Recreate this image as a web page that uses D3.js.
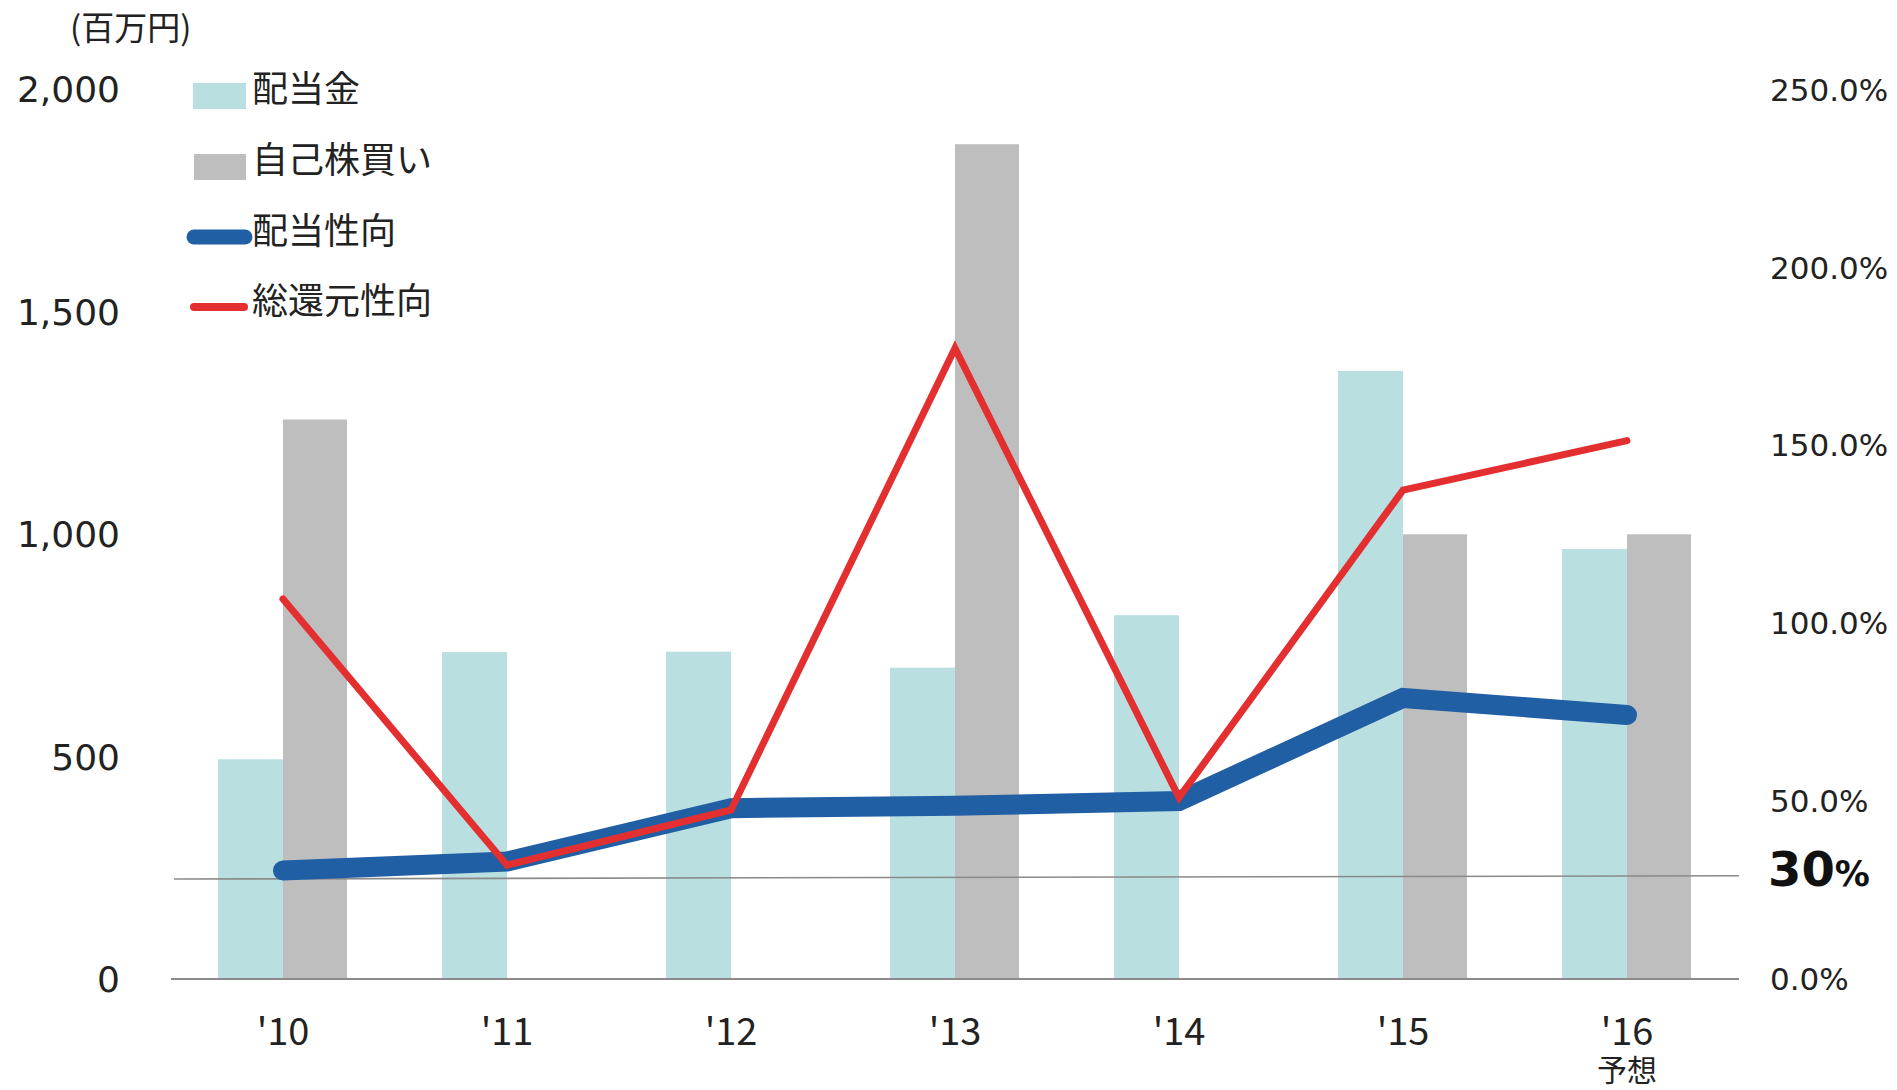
<!DOCTYPE html>
<html>
<head>
<meta charset="utf-8">
<script src="https://cdn.jsdelivr.net/npm/d3@7"></script>
<style>
html,body{margin:0;padding:0;background:#fff;}
svg{display:block;}
</style>
</head>
<body>
<svg id="chart" width="1897" height="1090"></svg>
<script>
const categories = ["'10", "'11", "'12", "'13", "'14", "'15", "'16"];
const subLabels = ["", "", "", "", "", "", "予想"];
const dividends = [494, 735, 736, 700, 818, 1367, 967];
const buybacks = [1258, 0, 0, 1877, 0, 1000, 1000];
const payoutRatio = [30.5, 33.0, 48.0, 48.7, 50.0, 79.0, 74.2];
const totalReturnRatio = [106.8, 32.0, 47.5, 177.3, 51.0, 137.4, 151.3];
const leftTicks = [0, 500, 1000, 1500, 2000];
const rightTicks = [0, 50, 100, 150, 200, 250];
const refLine = [28.1, 29.0];
const refLabel = ["30", "%"];
const unitLabel = "(百万円)";
const legendNames = ["配当金", "自己株買い", "配当性向", "総還元性向"];

const C = {teal: "#B9DFE0", gray: "#BEBEBE", blue: "#215FA5", red: "#E32F2F", text: "#222"};
const svg = d3.select("#chart");

const x = d3.scaleBand().domain(categories).range([171, 1739]).padding(0);
const yL = d3.scaleLinear().domain([0, 2000]).range([979, 89.5]);
const yR = d3.scaleLinear().domain([0, 250]).range([979, 89.5]);
const barW = 64;
const cx = c => x(c) + x.bandwidth() / 2;

// bars
svg.append("g").selectAll("rect").data(categories).join("rect")
  .attr("x", d => cx(d) - barW - 1).attr("width", barW + 1)
  .attr("y", (d, i) => yL(dividends[i])).attr("height", (d, i) => yL(0) - yL(dividends[i]))
  .attr("fill", C.teal);
svg.append("g").selectAll("rect").data(categories.filter((d, i) => buybacks[i] > 0)).join("rect")
  .attr("x", d => cx(d)).attr("width", barW)
  .attr("y", d => yL(buybacks[categories.indexOf(d)]))
  .attr("height", d => yL(0) - yL(buybacks[categories.indexOf(d)]))
  .attr("fill", C.gray);

// axis baseline
svg.append("line").attr("x1", x.range()[0]).attr("x2", x.range()[1])
  .attr("y1", yL(0)).attr("y2", yL(0)).attr("stroke", "#8a8a8a").attr("stroke-width", 2);
// reference line
svg.append("line").attr("x1", x.range()[0] + 3).attr("x2", x.range()[1])
  .attr("y1", yR(refLine[0])).attr("y2", yR(refLine[1])).attr("stroke", "#8a8a8a").attr("stroke-width", 1.6);

// lines
const lineGen = arr => d3.line().x((d, i) => cx(categories[i])).y(d => yR(d))(arr);
svg.append("path").attr("d", lineGen(payoutRatio)).attr("fill", "none")
  .attr("stroke", C.blue).attr("stroke-width", 20).attr("stroke-linecap", "round").attr("stroke-linejoin", "miter");
svg.append("path").attr("d", lineGen(totalReturnRatio)).attr("fill", "none")
  .attr("stroke", C.red).attr("stroke-width", 7).attr("stroke-linecap", "round").attr("stroke-linejoin", "miter");

// left axis labels
svg.append("g").selectAll("text").data(leftTicks).join("text")
  .attr("x", 120).attr("y", d => yL(d)).attr("dy", "0.36em").attr("text-anchor", "end")
  .attr("font-family", "DejaVu Sans").attr("font-size", 36).attr("fill", C.text)
  .text(d => d3.format(",")(d));
// right axis labels
svg.append("g").selectAll("text").data(rightTicks).join("text")
  .attr("x", 1770).attr("y", d => yR(d)).attr("dy", "0.36em").attr("text-anchor", "start")
  .attr("font-family", "DejaVu Sans").attr("font-size", 31).attr("fill", C.text)
  .text(d => d3.format(".1f")(d) + "%");
// 30% label
const rl = svg.append("text").attr("x", 1768).attr("y", 880).attr("dy", "0.36em")
  .attr("font-family", "DejaVu Sans").attr("font-weight", "bold").attr("fill", "#111");
rl.append("tspan").attr("font-size", 48).text(refLabel[0]);
rl.append("tspan").attr("font-size", 35).text(refLabel[1]);

// x labels
svg.append("g").selectAll("text").data(categories).join("text")
  .attr("x", d => cx(d)).attr("y", 1031).attr("dy", "0.36em").attr("text-anchor", "middle")
  .attr("font-family", "Noto Sans CJK JP").attr("font-size", 38).attr("fill", C.text)
  .text(d => d);
svg.append("g").selectAll("text").data(categories.filter((d, i) => subLabels[i])).join("text")
  .attr("x", d => cx(d)).attr("y", 1070).attr("dy", "0.36em").attr("text-anchor", "middle")
  .attr("font-family", "Noto Sans CJK JP").attr("font-size", 30).attr("fill", C.text)
  .text(d => subLabels[categories.indexOf(d)]);

// unit label
svg.append("text").attr("x", 70).attr("y", 28).attr("dy", "0.36em")
  .attr("font-family", "Noto Sans CJK JP").attr("font-size", 33).attr("fill", C.text).text(unitLabel);

// legend
const lg = svg.append("g");
const legY = [96, 167, 237, 307];
lg.append("rect").attr("x", 193).attr("y", legY[0] - 13).attr("width", 53).attr("height", 26).attr("fill", C.teal);
lg.append("rect").attr("x", 194).attr("y", legY[1] - 13).attr("width", 52).attr("height", 26).attr("fill", C.gray);
lg.append("line").attr("x1", 194).attr("x2", 245).attr("y1", legY[2]).attr("y2", legY[2])
  .attr("stroke", C.blue).attr("stroke-width", 15).attr("stroke-linecap", "round");
lg.append("line").attr("x1", 194).attr("x2", 244).attr("y1", legY[3]).attr("y2", legY[3])
  .attr("stroke", C.red).attr("stroke-width", 8).attr("stroke-linecap", "round");
const textY = [89, 160, 231, 301];
lg.selectAll("text").data(legendNames).join("text")
  .attr("x", 252).attr("y", (d, i) => textY[i]).attr("dy", "0.36em")
  .attr("font-family", "Noto Sans CJK JP").attr("font-size", 36).attr("fill", C.text)
  .text(d => d);
</script>
</body>
</html>
